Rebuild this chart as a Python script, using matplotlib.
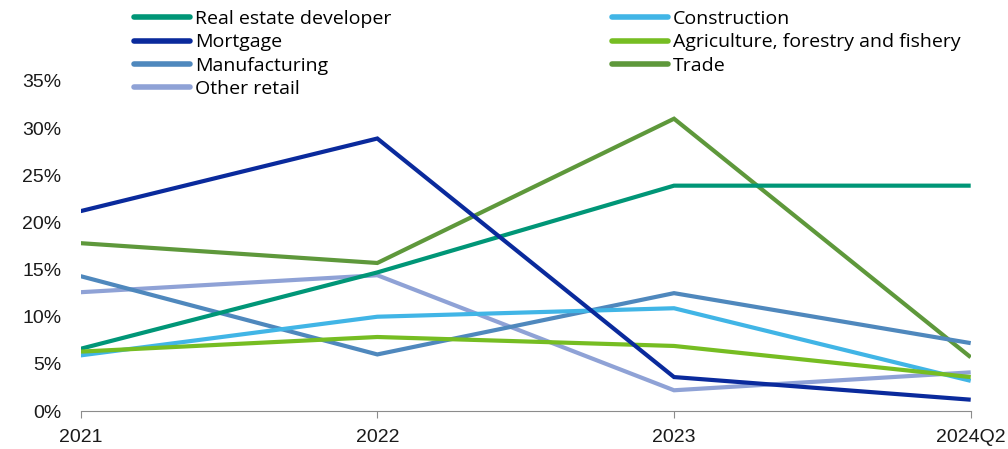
import numpy as np
import matplotlib.pyplot as plt
from matplotlib.ticker import PercentFormatter

# Share of loans by sector (%)
periods = ["2021", "2022", "2023", "2024Q2"]

real_estate = [6.6, 14.7, 23.9, 23.9]
mortgage = [21.2, 28.9, 3.6, 1.2]
manufacturing = [14.3, 6.0, 12.5, 7.2]
other_retail = [12.6, 14.4, 2.2, 4.1]
construction = [5.9, 10.0, 10.9, 3.2]
agriculture = [6.3, 7.85, 6.9, 3.6]
trade = [17.8, 15.7, 31.0, 5.7]

labels = ["Real estate developer", "Mortgage", "Manufacturing", "Other retail",
          "Construction", "Agriculture, forestry and fishery", "Trade"]
series = [real_estate, mortgage, manufacturing, other_retail,
          construction, agriculture, trade]
colors = ["#009677", "#0a2a9c", "#4f88bd", "#8fa2d6",
          "#41b5e6", "#76bd22", "#5e983b"]

# draw order (back to front) roughly as in the original
z = [4, 7, 3, 2, 5, 6, 1]

plt.rcParams['font.family'] = ['Open Sans', 'DejaVu Sans']

fig = plt.figure(figsize=(10.08, 4.49), dpi=100)
ax = fig.add_axes([0.080, 0.0846, 0.883, 0.735])

x = np.arange(len(periods))
handles = []
for vals, lab, col, zo in zip(series, labels, colors, z):
    h, = ax.plot(x, vals, color=col, lw=3.0, label=lab, zorder=zo,
                 solid_capstyle='butt', solid_joinstyle='miter')
    handles.append(h)

ax.set_xlim(0, len(periods) - 1)
ax.set_ylim(0, 35)
ax.set_yticks(np.arange(0, 36, 5))
ax.yaxis.set_major_formatter(PercentFormatter(decimals=0))
ax.set_xticks(x)
ax.set_xticklabels(periods)

for s in ["top", "right", "left"]:
    ax.spines[s].set_visible(False)
ax.spines["bottom"].set_color("#8c8c8c")
ax.spines["bottom"].set_linewidth(0.8)
ax.tick_params(axis='y', length=0, pad=14, labelsize=14, colors="#1a1a1a")
ax.tick_params(axis='x', direction='out', length=5, width=0.8, color="#8c8c8c",
               pad=8, labelsize=14, labelcolor="#1a1a1a")
for t in ax.get_xticklabels() + ax.get_yticklabels():
    t.set_fontfamily(['Liberation Sans', 'DejaVu Sans'])

leg_kw = dict(frameon=False, fontsize=14, handlelength=2.9, handletextpad=0.25,
              labelspacing=0.28, borderaxespad=0, borderpad=0)
leg1 = fig.legend(handles[:4], labels[:4], loc='upper left',
                  bbox_to_anchor=(0.133, 0.978), **leg_kw)
leg2 = fig.legend(handles[4:], labels[4:], loc='upper left',
                  bbox_to_anchor=(0.607, 0.978), **leg_kw)
for leg in (leg1, leg2):
    for line in leg.get_lines():
        line.set_linewidth(4)
        line.set_solid_capstyle('round')

fig.savefig("out.png", dpi=100)
